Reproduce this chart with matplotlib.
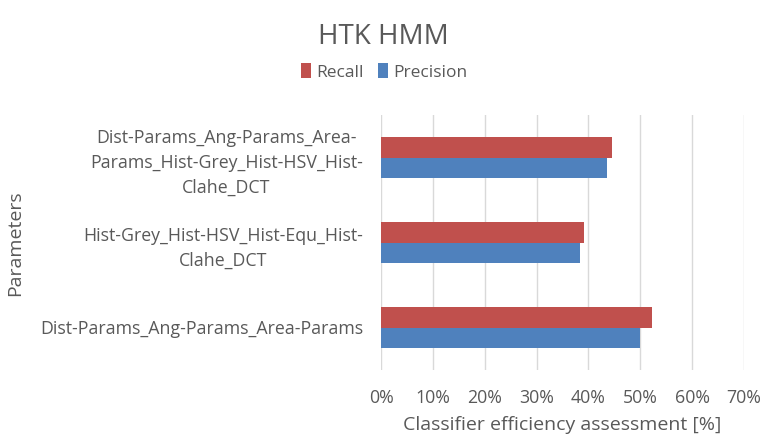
import matplotlib.pyplot as plt
from matplotlib.ticker import PercentFormatter

# feature sets, bottom to top as drawn on the y axis
categories = [
    "Dist-Params_Ang-Params_Area-Params",
    "Hist-Grey_Hist-HSV_Hist-Equ_Hist-\nClahe_DCT",
    "Dist-Params_Ang-Params_Area-\nParams_Hist-Grey_Hist-HSV_Hist-\nClahe_DCT",
]
recall = [52.2, 39.1, 44.6]
precision = [50.0, 38.3, 43.5]
x_ticks = [0, 10, 20, 30, 40, 50, 60, 70]

RED = "#C0504D"
BLUE = "#4F81BD"
TEXT = "#595959"

plt.rcParams["font.family"] = ["Open Sans", "DejaVu Sans"]

fig = plt.figure(figsize=(7.67, 4.42), dpi=100)
ax = fig.add_axes([381 / 767, 1 - 370 / 442, (744 - 381) / 767, (370 - 115) / 442])

pos = list(range(len(categories)))
h = 0.236
ax.barh([p - h / 2 for p in pos], precision, height=h, color=BLUE, label="Precision", zorder=3)
ax.barh([p + h / 2 for p in pos], recall, height=h, color=RED, label="Recall", zorder=3)

ax.set_xlim(0, 70)
ax.set_ylim(-0.5, len(categories) - 0.5)
ax.set_xticks(x_ticks)
ax.xaxis.set_major_formatter(PercentFormatter(decimals=0))
ax.set_yticks(pos)
ax.set_yticklabels(categories, multialignment="center", linespacing=1.5)

ax.grid(axis="x", color="#D9D9D9", linewidth=1, zorder=0)
for s in ax.spines.values():
    s.set_visible(False)
ax.tick_params(axis="both", length=0, colors=TEXT, labelsize=12.8)
ax.tick_params(axis="x", pad=14)
ax.tick_params(axis="y", pad=13)

ax.set_xlabel("Classifier efficiency assessment [%]", color=TEXT, fontsize=14, labelpad=6)
fig.text(15 / 767, 1 - 243 / 442, "Parameters", rotation=90, color=TEXT,
         fontsize=14, ha="center", va="center")

fig.text(0.5, 1 - 37 / 442, "HTK HMM", color=TEXT, fontsize=20, ha="center", va="center")

handles, labels = ax.get_legend_handles_labels()
fig.legend(handles[::-1], labels[::-1], loc="center", bbox_to_anchor=(384 / 767, 1 - 72 / 442),
           ncol=2, frameon=False, fontsize=12.5, labelcolor=TEXT, handlelength=0.6,
           handleheight=0.9, handletextpad=0.3, columnspacing=0.8)

fig.savefig("out.png", dpi=100)
